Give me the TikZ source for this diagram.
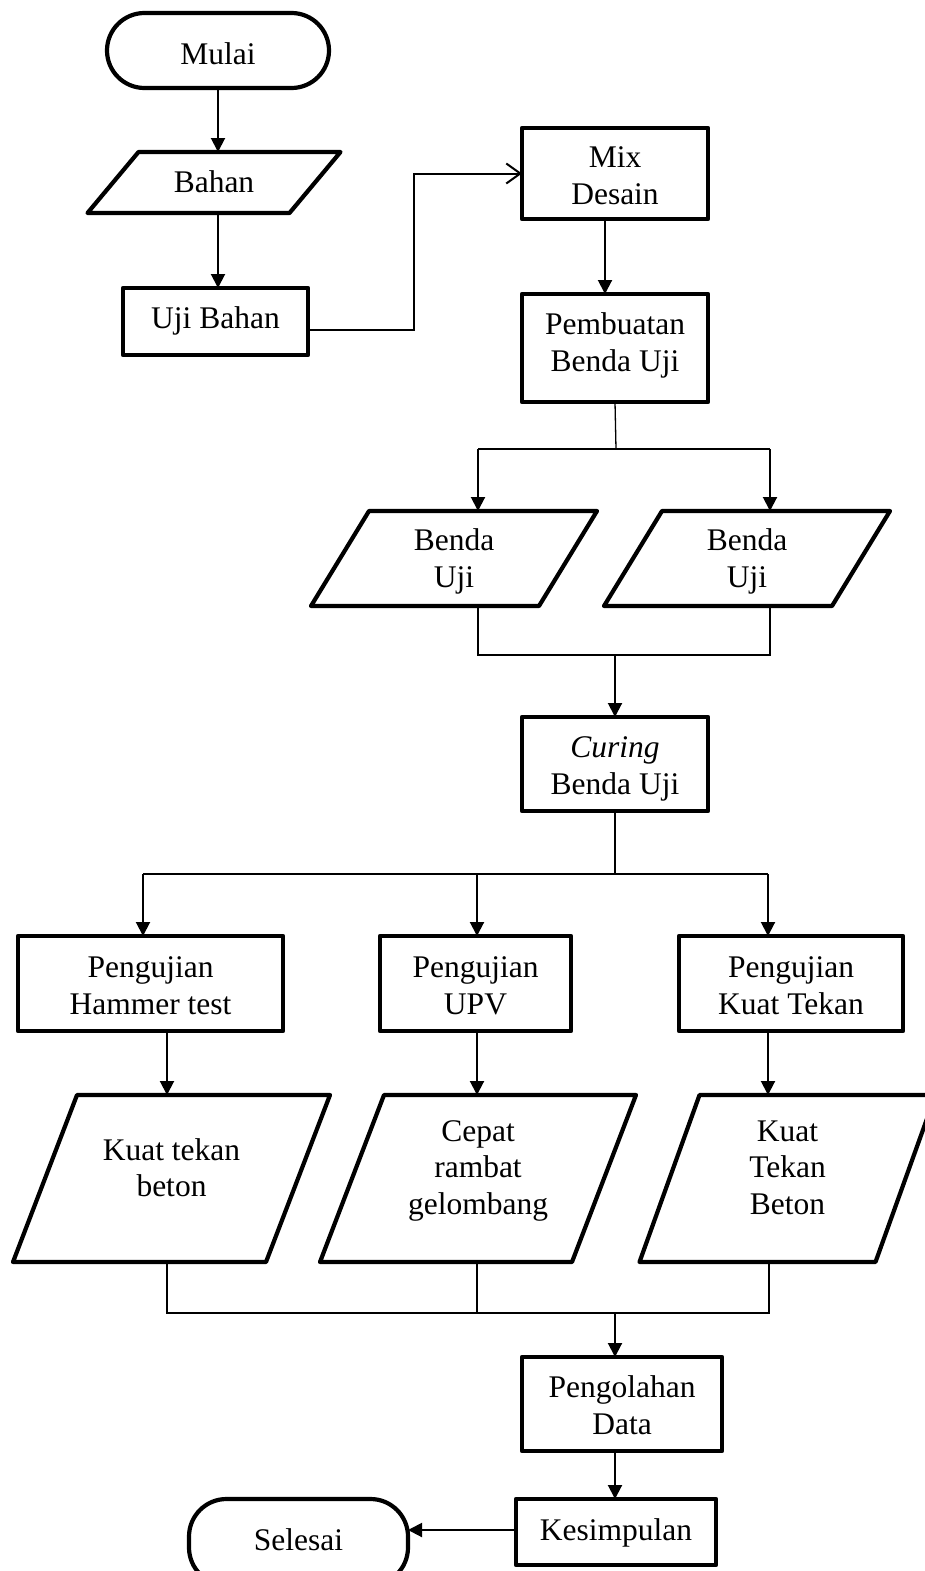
\documentclass[tikz,border=0pt]{standalone}
\usepackage{fontspec}
\setmainfont{Liberation Serif}
\usetikzlibrary{arrows.meta}
\newcommand{\tx}[2]{\raisebox{#1}[\height][\depth]{\begin{tabular}{@{}c@{}}#2\end{tabular}}}
\newcommand{\paradraw}[2]{\draw[border] ([xshift=#2]#1.north west) -- ([xshift=#2]#1.north east) -- ([xshift=-#2]#1.south east) -- ([xshift=-#2]#1.south west) -- cycle;}
\begin{document}
\begin{tikzpicture}[x=1pt,y=-1pt,
  border/.style={line width=4.2pt, line join=round},
  box/.style={draw, border, rectangle, inner sep=0pt, outer sep=0pt, font=\fontsize{31.5}{36.5}\selectfont},
  term/.style={box, rounded corners=37.5pt},
  para/.style={rectangle, inner sep=0pt, outer sep=0pt, font=\fontsize{31.5}{36.5}\selectfont},
  arr/.style={line width=2pt, -{Triangle[length=14pt,width=14pt]}},
  thinline/.style={line width=1.3pt},
  openarr/.style={line width=2pt, -{Straight Barb[length=14pt,width=20pt]}}
]
\useasboundingbox (0,0) rectangle (925,1571);

\node[term, minimum width=222pt, minimum height=75pt] (mulai) at (218,50.5) {\tx{-7pt}{Mulai}};
\node[para, minimum width=202pt, minimum height=61pt] (bahan) at (214,182.5) {\tx{-3pt}{Bahan}};
\paradraw{bahan}{25.5pt}
\node[box, minimum width=185pt, minimum height=67pt] (uji) at (215.5,321.5) {\tx{0pt}{Uji Bahan}};
\node[box, minimum width=186pt, minimum height=91pt] (mix) at (615,173.5) {\tx{-5pt}{Mix\\Desain}};
\node[box, minimum width=186pt, minimum height=108pt] (pemb) at (615,348) {\tx{2.5pt}{Pembuatan\\Benda Uji}};
\node[para, minimum width=228pt, minimum height=95pt] (bu1) at (454,558.5) {\tx{-3pt}{Benda\\Uji}};
\paradraw{bu1}{29pt}
\node[para, minimum width=228pt, minimum height=95pt] (bu2) at (747,558.5) {\tx{-3pt}{Benda\\Uji}};
\paradraw{bu2}{29pt}
\node[box, minimum width=186pt, minimum height=94pt] (cur) at (615,764) {\tx{-4.5pt}{\textit{Curing}\\Benda Uji}};
\node[box, minimum width=265pt, minimum height=95pt] (ham) at (150.5,983.5) {\tx{-5pt}{Pengujian\\Hammer test}};
\node[box, minimum width=191pt, minimum height=95pt] (upv) at (475.5,983.5) {\tx{-5pt}{Pengujian\\UPV}};
\node[box, minimum width=224pt, minimum height=95pt] (kt) at (791,983.5) {\tx{-5pt}{Pengujian\\Kuat Tekan}};
\node[para, minimum width=253pt, minimum height=167pt] (k1) at (171.5,1178.5) {\tx{7.5pt}{Kuat tekan\\beton}};
\paradraw{k1}{32pt}
\node[para, minimum width=252pt, minimum height=167pt] (k2) at (478,1178.5) {\tx{8pt}{Cepat\\rambat\\gelombang}};
\paradraw{k2}{32pt}
\node[para, minimum width=236pt, minimum height=167pt] (k3) at (787.5,1178.5) {\tx{8pt}{Kuat\\Tekan\\Beton}};
\paradraw{k3}{30pt}
\node[box, minimum width=200pt, minimum height=94pt] (olah) at (622,1404) {\tx{-4.5pt}{Pengolahan\\Data}};
\node[box, minimum width=200pt, minimum height=66pt] (kes) at (616,1532) {\tx{-1pt}{Kesimpulan}};
\node[term, minimum width=219pt, minimum height=86pt] (sel) at (298.5,1542) {\tx{-1pt}{Selesai}};

\coordinate (jog) at (414,0);
\coordinate (s1) at (616,449);
\coordinate (m1) at (615,655);
\coordinate (s2) at (615,874);
\coordinate (m2) at (615,1313);

\draw[arr] (mulai.south) -- (mulai.south |- bahan.north);
\draw[arr] (bahan.south -| mulai.south) -- (mulai.south |- uji.north);
\draw[openarr] ([yshift=-8pt]uji.east) -| (jog |- mix.west) -- (mix.west);
\draw[arr] ([xshift=-10pt]mix.south) -- ([xshift=-10pt]pemb.north);

\draw[thinline] (pemb.south) -- (s1);
\draw[thinline] ([xshift=24pt]bu1.north |- s1) -- ([xshift=23pt]bu2.north |- s1);
\draw[arr] ([xshift=24pt]bu1.north |- s1) -- ([xshift=24pt]bu1.north);
\draw[arr] ([xshift=23pt]bu2.north |- s1) -- ([xshift=23pt]bu2.north);

\draw[thinline] ([xshift=24pt]bu1.south) |- (m1) -| ([xshift=23pt]bu2.south);
\draw[arr] (m1) -- (m1 |- cur.north);

\draw[thinline] (cur.south) -- (s2);
\draw[thinline] ([xshift=-7.5pt]ham.north |- s2) -- ([xshift=-23pt]kt.north |- s2);
\draw[arr] ([xshift=-7.5pt]ham.north |- s2) -- ([xshift=-7.5pt]ham.north);
\draw[arr] ([xshift=1.5pt]upv.north |- s2) -- ([xshift=1.5pt]upv.north);
\draw[arr] ([xshift=-23pt]kt.north |- s2) -- ([xshift=-23pt]kt.north);

\draw[arr] ([xshift=16.5pt]ham.south) -- ([xshift=16.5pt]ham.south |- k1.north);
\draw[arr] ([xshift=1.5pt]upv.south) -- ([xshift=1.5pt]upv.south |- k2.north);
\draw[arr] ([xshift=-23pt]kt.south) -- ([xshift=-23pt]kt.south |- k3.north);

\draw[thinline] ([xshift=-4.5pt]k1.south) |- ([xshift=-18.5pt]k3.south |- m2) -- ([xshift=-18.5pt]k3.south);
\draw[thinline] ([xshift=-1pt]k2.south) -- ([xshift=-1pt]k2.south |- m2);
\draw[arr] (m2) -- (m2 |- olah.north);
\draw[arr] ([xshift=-7pt]olah.south) -- ([xshift=-7pt]olah.south |- kes.north);
\draw[arr] ([yshift=2pt]kes.west) -- ([yshift=2pt]kes.west -| sel.east);
\end{tikzpicture}
\end{document}
